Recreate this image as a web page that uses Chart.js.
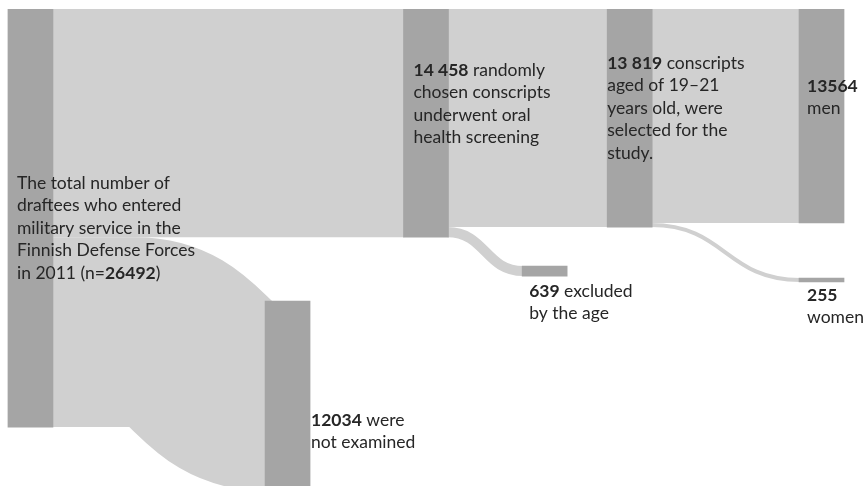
<!DOCTYPE html>
<html>
<head>
<meta charset="utf-8">
<script src="https://cdn.jsdelivr.net/npm/chart.js@4.4.1/dist/chart.umd.min.js"></script>
<style>
    html, body { margin: 0; padding: 0; background: #fff; }
    #wrap { width: 868px; height: 486px; }
</style>
</head>
<body>
<div id="wrap"><canvas id="sankey"></canvas></div>
<script>
// Nodes of the flow chart
const nodeIds = ['total', 'screened', 'notExamined', 'selected', 'excluded', 'men', 'women'];
const nodeValues = [26492, 14458, 12034, 13819, 639, 13564, 255];

// Flows between nodes
const flowSource = ['total', 'total', 'screened', 'screened', 'selected', 'selected'];
const flowTarget = ['screened', 'notExamined', 'selected', 'excluded', 'men', 'women'];
const flowValues = [14458, 12034, 13819, 639, 13564, 255];

// Label text per node, **bold** parts marked
const nodeLabels = [
    ['The total number of', 'draftees who entered', 'military service in the', 'Finnish Defense Forces', 'in 2011 (n=**26492**)'],
    ['**14 458** randomly', 'chosen conscripts', 'underwent oral', 'health screening'],
    ['**12034** were', 'not examined'],
    ['**13 819** conscripts', 'aged of 19\u201321', 'years old, were', 'selected for the', 'study.'],
    ['**639** excluded', 'by the age'],
    ['**13564**', 'men'],
    ['**255**', 'women']
];

// Layout: column position of each node, spacing above a node in its stack
const nodeColumn = [0, 2, 1.3, 3.03, 2.6, 4, 4];
const nodeGap = [0, 0, 4046, 0, 2468, 0, 3483];
// share of each link that runs straight before it bends
const flowLead = [0, 0.39, 0, 0, 0, 0];
// label offsets in px from node left / node top
const labelDx = [9, 10, 46, 0, 7, 8, 8];
const labelDy = [174, 61, 119, 54, 25, 77, 17];

const NODE_COLOR = '#a5a5a5';
const FLOW_COLOR = '#d0d0d0';
const TEXT_COLOR = '#262626';
const FONT_FAMILY = 'Lato, "Open Sans", sans-serif';
const FONT_SIZE = 17.5;
const LINE_HEIGHT = 22.6;

// simple stacking: children are placed along the source's outgoing side
const idx = id => nodeIds.indexOf(id);
const nodeStart = nodeValues.map(() => 0);
const outCursor = nodeValues.map(() => null);
const flows = [];
flowValues.forEach((v, i) => {
    const s = idx(flowSource[i]);
    const t = idx(flowTarget[i]);
    if (outCursor[s] === null) outCursor[s] = nodeStart[s];
    nodeStart[t] = outCursor[s] + nodeGap[t];
    flows.push({ s: s, t: t, y0: outCursor[s], y1: nodeStart[t], v: v, lead: flowLead[i] });
    outCursor[s] += v;
});

// links drawn as thick bezier strokes, like a d3 sankey link
const flowPlugin = {
    id: 'sankeyFlows',
    beforeDatasetsDraw(chart) {
        const ctx = chart.ctx;
        const yScale = chart.scales.y;
        const bars = chart.getDatasetMeta(0).data;
        ctx.save();
        ctx.strokeStyle = FLOW_COLOR;
        ctx.lineCap = 'butt';
        flows.forEach(f => {
            const a = bars[f.s], b = bars[f.t];
            const x0 = a.x + a.width / 2 - 1;
            const x1 = b.x - b.width / 2 + 1;
            const xs = x0 + (x1 - x0) * f.lead;
            const xm = (xs + x1) / 2;
            const ys = yScale.getPixelForValue(f.y0 + f.v / 2);
            const yt = yScale.getPixelForValue(f.y1 + f.v / 2);
            const w = Math.abs(yScale.getPixelForValue(f.v) - yScale.getPixelForValue(0));
            ctx.lineWidth = Math.max(w, 1);
            ctx.beginPath();
            ctx.moveTo(x0, ys);
            ctx.lineTo(xs, ys);
            ctx.bezierCurveTo(xm, ys, xm, yt, x1, yt);
            ctx.stroke();
        });
        ctx.restore();
    }
};

const labelPlugin = {
    id: 'nodeLabels',
    afterDatasetsDraw(chart) {
        const ctx = chart.ctx;
        const bars = chart.getDatasetMeta(0).data;
        ctx.save();
        ctx.fillStyle = TEXT_COLOR;
        ctx.textBaseline = 'middle';
        ctx.textAlign = 'left';
        nodeLabels.forEach((lines, i) => {
            const bar = bars[i];
            const left = bar.x - bar.width / 2 + labelDx[i];
            const top = Math.min(bar.y, bar.base) + labelDy[i];
            lines.forEach((line, j) => {
                let x = left;
                const y = top + j * LINE_HEIGHT;
                line.split('**').forEach((part, k) => {
                    if (!part) return;
                    ctx.font = (k % 2 ? 'bold ' : '') + FONT_SIZE + 'px ' + FONT_FAMILY;
                    ctx.fillText(part, x, y);
                    x += ctx.measureText(part).width;
                });
            });
        });
        ctx.restore();
    }
};

new Chart(document.getElementById('sankey'), {
    type: 'bar',
    data: {
        datasets: [{
            data: nodeValues.map((v, i) => ({ x: nodeColumn[i], y: [nodeStart[i], nodeStart[i] + v] })),
            backgroundColor: NODE_COLOR,
            borderWidth: 0,
            barThickness: 45
        }]
    },
    options: {
        responsive: true,
        maintainAspectRatio: false,
        animation: false,
        layout: { padding: { top: 9, left: 0, right: 0, bottom: 0 } },
        scales: {
            x: { type: 'linear', min: -0.154, max: 4.235, offset: false, display: false },
            y: { type: 'linear', min: 0, max: 30228, reverse: true, display: false }
        },
        plugins: {
            legend: { display: false },
            tooltip: { enabled: false }
        }
    },
    plugins: [flowPlugin, labelPlugin]
});
</script>
</body>
</html>
